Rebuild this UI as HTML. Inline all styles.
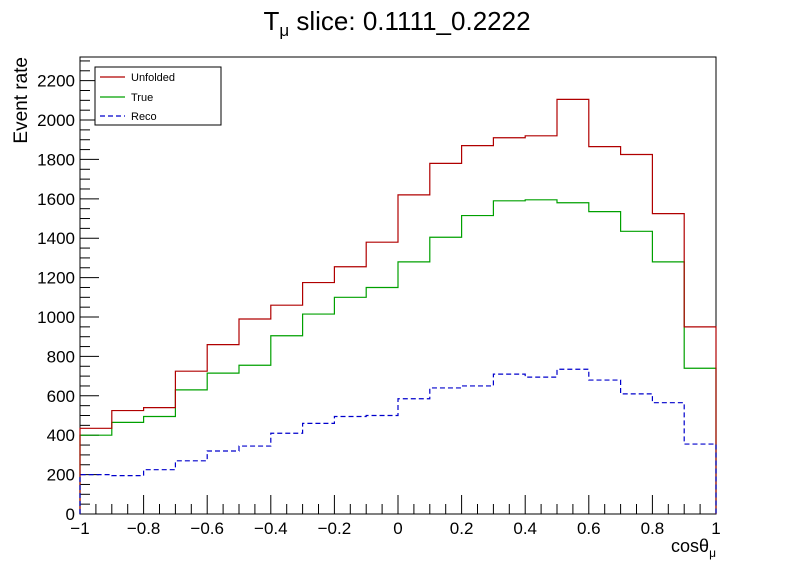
<!DOCTYPE html>
<html><head><meta charset="utf-8"><style>body{margin:0;background:#fff}svg{display:block}</style></head>
<body>
<svg id="c" width="796" height="572" xmlns="http://www.w3.org/2000/svg" font-family="Liberation Sans, sans-serif">
<rect width="796" height="572" fill="#fff"/>
<text x="397" y="30" text-anchor="middle" font-size="26">T<tspan font-size="17" dy="6">μ</tspan><tspan dy="-6"> slice: 0.1111_0.2222</tspan></text>
<text transform="translate(27,57) rotate(-90)" text-anchor="end" font-size="19">Event rate</text>
<text x="716" y="552" text-anchor="end" font-size="18">cosθ<tspan font-size="12" dy="5">μ</tspan></text>
<g id="plot"></g>
<g>
<rect x="95" y="67" width="126" height="58" fill="#fff" stroke="#000" stroke-width="1"/>
<line x1="100" y1="77" x2="125" y2="77" stroke="#b00000" stroke-width="1.2"/>
<text x="131" y="81" font-size="11">Unfolded</text>
<line x1="100" y1="97" x2="125" y2="97" stroke="#00a000" stroke-width="1.2"/>
<text x="131" y="101" font-size="11">True</text>
<line x1="100" y1="116" x2="125" y2="116" stroke="#0000cc" stroke-width="1.2" stroke-dasharray="5,3"/>
<text x="131" y="120" font-size="11">Reco</text>
</g>
</svg>
<script>
const binEdgesLow = [-1,-0.9,-0.8,-0.7,-0.6,-0.5,-0.4,-0.3,-0.2,-0.1,0,0.1,0.2,0.3,0.4,0.5,0.6,0.7,0.8,0.9];
const unfolded = [435,525,540,725,860,990,1060,1175,1255,1380,1620,1780,1870,1910,1920,2105,1865,1825,1525,950];
const trueVals = [400,465,495,630,715,755,905,1015,1100,1150,1280,1405,1515,1590,1595,1580,1535,1435,1280,740];
const reco = [200,195,225,270,320,345,410,460,495,500,585,640,650,710,695,735,680,610,565,355];
const yTickLabels = ["0","200","400","600","800","1000","1200","1400","1600","1800","2000","2200"];
const xTickLabels = ["−1","−0.8","−0.6","−0.4","−0.2","0","0.2","0.4","0.6","0.8","1"];
const X0=80,X1=716,Y0=514,YT=57,YMAX=2320;
const sx=v=>X0+(v+1)/2*(X1-X0);
const sy=v=>Y0-v/YMAX*(Y0-YT);
const g=document.getElementById('plot');
const NS='http://www.w3.org/2000/svg';
function mk(t,a){const e=document.createElementNS(NS,t);for(const k in a)e.setAttribute(k,a[k]);g.appendChild(e);return e;}
const fr=mk('rect',{x:X0,y:YT,width:X1-X0,height:Y0-YT,fill:'none',stroke:'#000','stroke-width':1});


for(let v=0;v<=2300;v+=50){const y=sy(v);const L=v%200===0?19:10;const t=mk('line',{x1:X0,y1:y,x2:X0+L,y2:y,stroke:'#000','stroke-width':1});

}
yTickLabels.forEach(s=>{const t=mk('text',{x:X0-5,y:sy(+s)+6,'text-anchor':'end','font-size':17});t.textContent=s;

});
for(let i=0;i<=40;i++){const v=-1+i*0.05;const x=sx(v);const L=i%4===0?19:10;const t=mk('line',{x1:x,y1:Y0,x2:x,y2:Y0-L,stroke:'#000','stroke-width':1});

}
xTickLabels.forEach(s=>{const v=parseFloat(s.replace('−','-'));const t=mk('text',{x:sx(v),y:Y0+20,'text-anchor':'middle','font-size':17});t.textContent=s;

});
function hist(vals,color,dash,name){let d='M'+sx(-1)+','+sy(0);vals.forEach((v,i)=>{const a=sx(binEdgesLow[i]),b=sx(binEdgesLow[i]+0.1);d+=' L'+a+','+sy(v)+' L'+b+','+sy(v);});d+=' L'+sx(1)+','+sy(0);
const p=mk('path',{d:d,fill:'none',stroke:color,'stroke-width':1.2});if(dash)p.setAttribute('stroke-dasharray','5,3');

}
hist(trueVals,'#00a000',false,'true-histogram');
hist(unfolded,'#b00000',false,'unfolded-histogram');
hist(reco,'#0000cc',true,'reco-histogram');
</script>
</body></html>
